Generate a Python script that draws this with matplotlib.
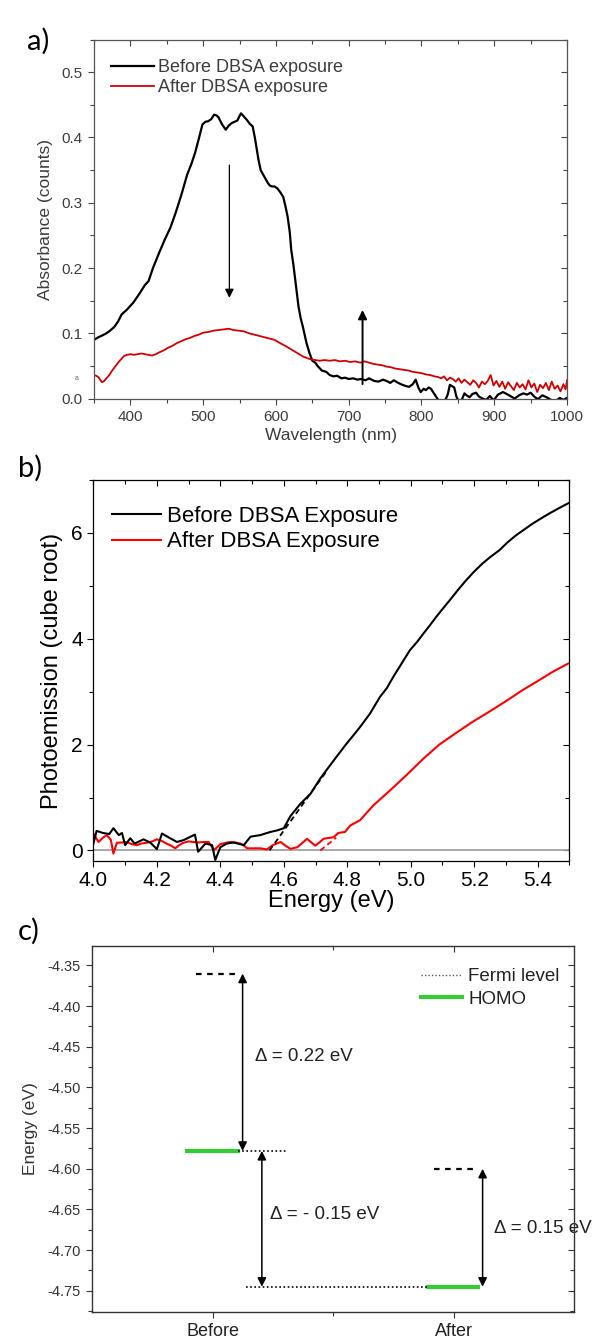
import matplotlib
matplotlib.use("Agg")
import matplotlib.pyplot as plt
from matplotlib.lines import Line2D
from matplotlib.ticker import FormatStrFormatter

# ---- panel a: UV-vis absorbance ----
before_nm = [350, 356, 362, 367, 372, 378, 383, 388, 395, 404, 412, 420, 425, 431, 439, 447, 455, 462,
             470, 478, 484, 489, 494, 499, 503, 507, 511, 515, 518, 521, 526, 531, 535, 539, 543, 547,
             550, 552, 556, 560, 564, 568, 571, 573, 576, 579, 584, 589, 592, 595, 598, 602, 606, 610,
             613, 616, 619, 621, 624, 626, 629, 631, 634, 637, 640, 642, 646, 650, 654, 658, 663, 669,
             674, 679, 684, 690, 695, 700, 706, 712, 717, 723, 728, 735, 741, 747, 752, 757, 762, 768,
             774, 779, 783, 788, 792, 796, 799, 803, 806, 810, 813, 817, 820, 823, 827, 832, 836, 839,
             842, 845, 848, 851, 855, 859, 862, 866, 870, 875, 879, 884, 889, 894, 899, 905, 912, 917,
             922, 928, 934, 940, 945, 950, 955, 960, 966, 972, 978, 984, 990, 995, 1000]
before_abs = [0.090, 0.094, 0.097, 0.100, 0.104, 0.110, 0.118, 0.129, 0.136, 0.147, 0.160, 0.174, 0.180,
              0.200, 0.222, 0.243, 0.262, 0.284, 0.312, 0.343, 0.360, 0.377, 0.398, 0.420, 0.424, 0.425,
              0.428, 0.435, 0.434, 0.431, 0.420, 0.412, 0.418, 0.422, 0.424, 0.426, 0.433, 0.437, 0.432,
              0.427, 0.421, 0.417, 0.400, 0.386, 0.366, 0.350, 0.340, 0.330, 0.326, 0.325, 0.325, 0.322,
              0.316, 0.309, 0.295, 0.279, 0.255, 0.228, 0.205, 0.187, 0.160, 0.141, 0.123, 0.110, 0.095,
              0.085, 0.070, 0.058, 0.055, 0.049, 0.043, 0.041, 0.036, 0.034, 0.035, 0.031, 0.032, 0.030,
              0.031, 0.029, 0.030, 0.028, 0.031, 0.027, 0.026, 0.029, 0.027, 0.024, 0.028, 0.024, 0.021,
              0.019, 0.018, 0.022, 0.029, 0.016, 0.010, 0.015, 0.013, 0.017, 0.015, 0.008, 0.003, -0.002,
              -0.006, -0.004, 0.006, 0.021, 0.019, 0.017, 0.003, -0.004, -0.003, 0.008, 0.005, 0.002,
              0.007, 0.009, 0.003, 0.000, -0.002, 0.004, -0.003, 0.006, 0.010, 0.007, 0.004, 0.000, 0.005,
              0.008, 0.006, 0.009, 0.003, -0.001, 0.005, 0.002, -0.002, -0.004, 0.001, -0.002, 0.001]

after_nm = [350, 353, 356, 359, 361, 364, 367, 371, 375, 379, 383, 387, 391, 395, 400, 405, 410, 415,
            420, 425, 430, 435, 440, 446, 452, 458, 464, 470, 476, 482, 488, 494, 500, 507, 514, 521,
            528, 535, 542, 549, 556, 563, 570, 577, 584, 591, 598, 604, 609, 614, 620, 626, 632, 638,
            643, 648, 654, 660, 667, 674, 681, 688, 695, 702, 709, 716, 722, 728, 734, 740, 746, 752,
            758, 764, 770, 776, 782, 788, 794, 800, 806, 812, 818, 823, 827, 831, 835, 839, 843, 847,
            851, 855, 859, 863, 867, 871, 875, 879, 883, 887, 891, 895, 899, 903, 907, 911, 915, 919,
            923, 927, 931, 935, 939, 943, 947, 951, 955, 959, 963, 967, 971, 975, 979, 983, 987, 991,
            995, 998, 1000]
after_abs = [0.036, 0.035, 0.033, 0.028, 0.025, 0.027, 0.031, 0.036, 0.043, 0.049, 0.055, 0.060, 0.065,
             0.067, 0.068, 0.067, 0.068, 0.069, 0.068, 0.067, 0.066, 0.068, 0.071, 0.074, 0.078, 0.081,
             0.085, 0.088, 0.091, 0.093, 0.096, 0.098, 0.101, 0.102, 0.104, 0.105, 0.106, 0.107, 0.105,
             0.104, 0.103, 0.100, 0.098, 0.096, 0.094, 0.092, 0.090, 0.086, 0.083, 0.080, 0.076, 0.072,
             0.068, 0.064, 0.062, 0.060, 0.059, 0.058, 0.059, 0.058, 0.059, 0.057, 0.058, 0.056, 0.057,
             0.055, 0.057, 0.055, 0.053, 0.052, 0.051, 0.049, 0.048, 0.046, 0.045, 0.044, 0.043, 0.041,
             0.040, 0.039, 0.037, 0.036, 0.034, 0.033, 0.031, 0.034, 0.028, 0.032, 0.030, 0.026, 0.031,
             0.024, 0.029, 0.025, 0.021, 0.028, 0.024, 0.017, 0.026, 0.022, 0.027, 0.036, 0.020, 0.027,
             0.018, 0.026, 0.015, 0.025, 0.019, 0.013, 0.024, 0.017, 0.022, 0.014, 0.028, 0.017, 0.023,
             0.010, 0.021, 0.016, 0.024, 0.013, 0.026, 0.015, 0.020, 0.011, 0.022, 0.014, 0.028]

# ---- panel b: photoemission ----
before_E = [4.000, 4.010, 4.030, 4.050, 4.063, 4.080, 4.090, 4.100, 4.116, 4.130, 4.158, 4.180, 4.200,
            4.216, 4.242, 4.263, 4.284, 4.320, 4.330, 4.353, 4.374, 4.384, 4.400, 4.420, 4.442, 4.474,
            4.495, 4.526, 4.558, 4.580, 4.600, 4.621, 4.652, 4.684, 4.715, 4.746, 4.770, 4.798, 4.820,
            4.840, 4.871, 4.903, 4.925, 4.944, 4.970, 4.997, 5.020, 5.039, 5.060, 5.080, 5.100, 5.122,
            5.150, 5.174, 5.200, 5.226, 5.250, 5.279, 5.305, 5.331, 5.357, 5.383, 5.410, 5.435, 5.465,
            5.500]
before_pe = [0.13, 0.37, 0.33, 0.31, 0.42, 0.29, 0.33, 0.10, 0.23, 0.13, 0.21, 0.145, 0.025, 0.32, 0.23,
             0.16, 0.195, 0.30, -0.025, 0.13, 0.10, -0.18, 0.06, 0.13, 0.15, 0.10, 0.26, 0.29, 0.35,
             0.38, 0.42, 0.65, 0.88, 1.07, 1.36, 1.61, 1.80, 2.02, 2.18, 2.33, 2.58, 2.90, 3.07, 3.27,
             3.52, 3.78, 3.94, 4.09, 4.25, 4.41, 4.56, 4.72, 4.93, 5.10, 5.27, 5.42, 5.54, 5.67, 5.82,
             5.95, 6.06, 6.17, 6.27, 6.36, 6.46, 6.57]

after_E = [4.000, 4.016, 4.030, 4.042, 4.055, 4.063, 4.074, 4.090, 4.105, 4.120, 4.137, 4.150, 4.168,
           4.185, 4.200, 4.215, 4.230, 4.245, 4.258, 4.270, 4.284, 4.300, 4.316, 4.330, 4.347, 4.363,
           4.372, 4.379, 4.390, 4.400, 4.415, 4.430, 4.447, 4.463, 4.475, 4.484, 4.505, 4.526, 4.547,
           4.565, 4.590, 4.605, 4.621, 4.642, 4.660, 4.673, 4.685, 4.699, 4.712, 4.725, 4.757, 4.772,
           4.793, 4.809, 4.840, 4.882, 4.934, 4.986, 5.039, 5.090, 5.143, 5.195, 5.247, 5.300, 5.350,
           5.400, 5.446, 5.496]
after_pe = [0.32, 0.16, 0.24, 0.29, 0.20, -0.06, 0.145, 0.15, 0.16, 0.12, 0.10, 0.13, 0.145, 0.17, 0.21,
            0.18, 0.13, 0.09, 0.04, 0.10, 0.145, 0.17, 0.16, 0.15, 0.16, 0.16, 0.08, 0.006, 0.06, 0.12,
            0.14, 0.16, 0.15, 0.13, 0.09, 0.04, 0.04, 0.04, 0.02, 0.10, 0.16, 0.09, 0.03, 0.06, 0.15,
            0.22, 0.16, 0.09, 0.15, 0.22, 0.25, 0.33, 0.35, 0.47, 0.57, 0.85, 1.13, 1.42, 1.73, 2.00,
            2.22, 2.43, 2.62, 2.82, 3.02, 3.20, 3.37, 3.53]

before_fit_E = [4.555, 4.735]
before_fit_pe = [0.0, 1.50]
after_fit_E = [4.715, 4.765]
after_fit_pe = [0.0, 0.24]

# ---- panel c: energy levels ----
samples = ["Before", "After"]
fermi_level = [-4.36, -4.60]
homo_level = [-4.578, -4.745]
delta_labels = ["\u0394 = 0.22 eV", "\u0394 = - 0.15 eV", "\u0394 = 0.15 eV"]

plt.rcParams['font.family'] = ['Liberation Sans', 'DejaVu Sans']
plt.rcParams['axes.unicode_minus'] = False

fig = plt.figure(figsize=(5.95, 13.42), dpi=100)


def mirror_ticks(ax, xmaj, xmin, ymaj, ymin, color):
    # origin style: ticks out on left/bottom, in on top/right
    ax.tick_params(which='both', direction='out', color=color, width=0.8)
    ax.tick_params(which='major', length=4.5)
    ax.tick_params(which='minor', length=3)
    top = ax.secondary_xaxis('top')
    top.set_xticks(xmaj)
    top.set_xticks(xmin, minor=True)
    top.tick_params(which='both', direction='in', labeltop=False, color=color, width=0.8)
    top.tick_params(which='major', length=4.5)
    top.tick_params(which='minor', length=3)
    top.spines['top'].set_visible(False)
    right = ax.secondary_yaxis('right')
    right.set_yticks(ymaj)
    right.set_yticks(ymin, minor=True)
    right.tick_params(which='both', direction='in', labelright=False, color=color, width=0.8)
    right.tick_params(which='major', length=4.5)
    right.tick_params(which='minor', length=3)
    right.spines['right'].set_visible(False)


# ================= a) =================
grey = '#3c3c3c'
ax = fig.add_axes([0.158, 0.703, 0.795, 0.2675])
ax.plot(before_nm, before_abs, color='black', lw=1.6, label='Before DBSA exposure')
ax.plot(after_nm, after_abs, color='#d40000', lw=1.3, label='After DBSA exposure')
ax.set_xlim(350, 1000)
ax.set_ylim(0, 0.55)
a_xmaj = [400, 500, 600, 700, 800, 900, 1000]
a_xmin = list(range(350, 1001, 50))
a_ymaj = [0, 0.1, 0.2, 0.3, 0.4, 0.5]
a_ymin = [0.05, 0.15, 0.25, 0.35, 0.45, 0.55]
ax.set_xticks(a_xmaj)
ax.set_xticks(a_xmin, minor=True)
ax.set_yticks(a_ymaj)
ax.set_yticks(a_ymin, minor=True)
ax.yaxis.set_major_formatter(FormatStrFormatter('%.1f'))
mirror_ticks(ax, a_xmaj, a_xmin, a_ymaj, a_ymin, '#444444')
for s in ax.spines.values():
    s.set_color('#555555')
    s.set_linewidth(0.9)
ax.tick_params(labelsize=11, labelcolor=grey)
ax.set_xlabel('Wavelength (nm)', fontsize=12.5, color=grey, labelpad=3)
ax.set_ylabel('Absorbance (counts)', fontsize=12.5, color=grey, labelpad=6)
ax.annotate('', xy=(536, 0.150), xytext=(536, 0.362),
            arrowprops=dict(arrowstyle='-|>', color='black', lw=0.9, mutation_scale=13))
ax.annotate('', xy=(719, 0.140), xytext=(719, 0.018),
            arrowprops=dict(arrowstyle='-|>', color='black', lw=1.4, mutation_scale=13))
ax.legend(loc='upper left', bbox_to_anchor=(0.02, 0.965), frameon=False, fontsize=13,
          handlelength=2.4, handletextpad=0.2, labelspacing=0.15, borderaxespad=0,
          labelcolor=grey)
fig.text(0.125, 0.717, 'a', fontsize=5, color='#666666')
fig.text(0.045, 0.963, 'a)', fontsize=21, family=['Lato', 'DejaVu Sans'])

# ================= b) =================
ax = fig.add_axes([0.157, 0.3584, 0.800, 0.284])
ax.axhline(0, color='#a0a0a0', lw=1.3, zorder=1)
ax.plot(before_E, before_pe, color='black', lw=1.5, label='Before DBSA Exposure', zorder=3)
ax.plot(after_E, after_pe, color='#ff0000', lw=1.5, label='After DBSA Exposure', zorder=2)
ax.plot(before_fit_E, before_fit_pe, color='black', lw=1.3, ls=(0, (3, 2)), zorder=3)
ax.plot(after_fit_E, after_fit_pe, color='#ff0000', lw=1.3, ls=(0, (3, 2)), zorder=2)
ax.set_xlim(4.0, 5.5)
ax.set_ylim(-0.2, 7.0)
b_xmaj = [4.0, 4.2, 4.4, 4.6, 4.8, 5.0, 5.2, 5.4]
b_xmin = [4.1, 4.3, 4.5, 4.7, 4.9, 5.1, 5.3, 5.5]
ax.set_xticks(b_xmaj)
ax.set_xticks(b_xmin, minor=True)
ax.set_yticks([0, 2, 4, 6])
ax.set_yticks([1, 3, 5, 7], minor=True)
ax.xaxis.set_major_formatter(FormatStrFormatter('%.1f'))
mirror_ticks(ax, b_xmaj, b_xmin, [0, 2, 4, 6], [1, 3, 5, 7], 'black')
for s in ax.spines.values():
    s.set_linewidth(0.9)
ax.tick_params(labelsize=15, pad=3)
ax.set_xlabel('Energy (eV)', fontsize=17, labelpad=0)
ax.set_ylabel('Photoemission (cube root)', fontsize=17, labelpad=6)
ax.legend(loc='upper left', bbox_to_anchor=(0.02, 0.955), frameon=False, fontsize=16,
          handlelength=2.2, handletextpad=0.3, labelspacing=0.2, borderaxespad=0)
fig.text(0.03, 0.645, 'b)', fontsize=21, family=['Lato', 'DejaVu Sans'])

# ================= c) =================
ax = fig.add_axes([0.155, 0.0224, 0.81, 0.2727])
xpos = [1, 2]
# Fermi level dashes
ax.plot([0.93, 1.095], [fermi_level[0]] * 2, color='black', lw=1.6, ls=(0, (2.5, 2.5)))
ax.plot([1.92, 2.09], [fermi_level[1]] * 2, color='black', lw=1.6, ls=(0, (2.5, 2.5)))
# HOMO lines
ax.plot([0.895, 1.105], [homo_level[0]] * 2, color='#33cc33', lw=3)
ax.plot([1.893, 2.10], [homo_level[1]] * 2, color='#33cc33', lw=3)
# dotted reference lines
ax.plot([1.105, 1.31], [homo_level[0]] * 2, color='black', lw=1.2, ls=(0, (1, 1.5)))
ax.plot([1.14, 1.893], [homo_level[1]] * 2, color='black', lw=1.2, ls=(0, (1, 1.5)))
arrow = dict(arrowstyle='<|-|>', color='black', lw=1.1, mutation_scale=13, shrinkA=0, shrinkB=0)
ax.annotate('', xy=(1.124, fermi_level[0]), xytext=(1.124, homo_level[0]), arrowprops=arrow)
ax.annotate('', xy=(1.204, homo_level[0]), xytext=(1.204, homo_level[1]), arrowprops=arrow)
ax.annotate('', xy=(2.12, fermi_level[1]), xytext=(2.12, homo_level[1]), arrowprops=arrow)
ax.text(1.175, -4.462, delta_labels[0], fontsize=13.5, va='center', color='#222222')
ax.text(1.239, -4.656, delta_labels[1], fontsize=13.5, va='center', color='#222222')
ax.text(2.168, -4.674, delta_labels[2], fontsize=13.5, va='center', color='#222222',
        clip_on=False, zorder=1)
ax.set_xlim(0.5, 2.5)
ax.set_ylim(-4.776, -4.326)
ax.set_xticks(xpos)
ax.set_xticklabels(samples)
ax.set_xticks([1.5], minor=True)
c_ymaj = [-4.35, -4.40, -4.45, -4.50, -4.55, -4.60, -4.65, -4.70, -4.75]
c_ymin = [-4.375, -4.425, -4.475, -4.525, -4.575, -4.625, -4.675, -4.725, -4.775]
ax.set_yticks(c_ymaj)
ax.set_yticks(c_ymin, minor=True)
ax.yaxis.set_major_formatter(FormatStrFormatter('%.2f'))
mirror_ticks(ax, xpos, [1.5], c_ymaj, c_ymin, '#333333')
for s in ax.spines.values():
    s.set_color('#333333')
    s.set_linewidth(1.0)
    s.set_zorder(4)
ax.tick_params(axis='y', labelsize=10.5, labelcolor='#333333')
ax.tick_params(axis='x', labelsize=13, labelcolor='#222222')
ax.set_ylabel('Energy (eV)', fontsize=12.5, color='#333333', labelpad=7)
handles = [Line2D([], [], color='#555555', lw=1, ls=(0, (1, 1.5))),
           Line2D([], [], color='#33cc33', lw=3)]
ax.legend(handles, ['Fermi level', 'HOMO'], loc='upper right', bbox_to_anchor=(0.985, 0.96),
          frameon=False, fontsize=13.5, handlelength=2.2, handletextpad=0.3, labelspacing=0.3,
          borderaxespad=0, labelcolor='#222222')
fig.text(0.03, 0.3, 'c)', fontsize=21, family=['Lato', 'DejaVu Sans'])

fig.savefig('out.png', dpi=100)
